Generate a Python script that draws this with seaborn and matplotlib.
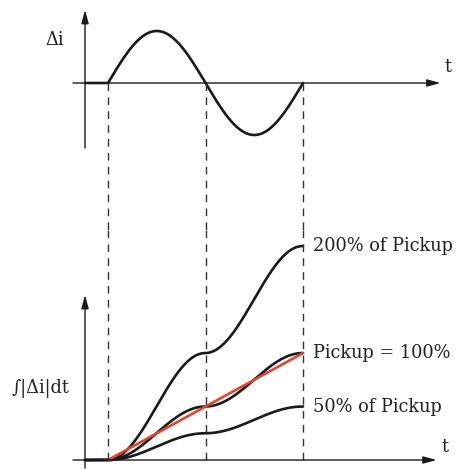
# Differential current and its integral, compared against the pickup level
import numpy as np
import pandas as pd
import matplotlib
matplotlib.use('Agg')
import matplotlib.pyplot as plt
import seaborn as sns

# Data
events = [1.0, 2.0, 3.0]            # fault start, zero crossing, end of the cycle (t in half-periods)
levels = [2.0, 1.0, 0.5]            # 200 %, 100 %, 50 % of pickup
labels = ['200% of Pickup', 'Pickup = 100%', '50% of Pickup']
pickup_line = [0.0, 1.0]            # straight pickup reference, from start to end
axis_t = 0.764                      # where the vertical axes stand

sns.set_style('white')
plt.rcParams['font.family'] = ['DejaVu Serif', 'DejaVu Sans']
plt.rcParams['font.size'] = 12.8

fig = plt.figure(figsize=(4.57, 4.69), dpi=100)
ax_top = fig.add_axes([0, 239 / 469, 1, 230 / 469])
ax_bot = fig.add_axes([0, 0, 1, 239 / 469])
for ax in (ax_top, ax_bot):
    ax.set_xlim(-0.108, 4.579)
    ax.axis('off')
ax_top.set_ylim(-2.827, 1.596)
ax_bot.set_ylim(-0.084, 2.150)

# Δi : one sine cycle from the fault start
t_pre = np.linspace(axis_t, events[0], 5)
t_wave = np.linspace(events[0], events[2], 300)
t_all = np.concatenate([t_pre, t_wave])
di = np.where(t_all < events[0], 0.0, np.sin(np.pi * (t_all - events[0])))
top_df = pd.DataFrame({'t': t_all, 'di': di})
sns.lineplot(data=top_df, x='t', y='di', ax=ax_top, color='#1a1a1a', lw=1.9, sort=False)

# integral of |Δi| normalised so that the 100 % curve reaches 1 at the end
step = np.diff(t_all, prepend=t_all[0])
integ = np.cumsum(np.abs(di) * step)
integ = integ / integ[-1]
for lev, lab in zip(levels, labels):
    d = pd.DataFrame({'t': t_all, 'y': integ * lev})
    sns.lineplot(data=d, x='t', y='y', ax=ax_bot, color='#1a1a1a', lw=1.9, sort=False)
    ax_bot.text(events[2] + 0.103, lev, lab, ha='left', va='center', color='#222222')

red_df = pd.DataFrame({'t': [events[0], events[2]], 'y': pickup_line})
sns.lineplot(data=red_df, x='t', y='y', ax=ax_bot, color='#e2452b', lw=1.9)

# dashed guides through both panels
dash = (0, (5.5, 4.5))
for t in events:
    ax_top.plot([t, t], [0, -2.827], color='#333333', lw=1.0, ls=dash, clip_on=False)
    ax_bot.plot([t, t], [2.150, 0], color='#333333', lw=1.0, ls=dash, clip_on=False)

# axes with arrows
arrow = dict(arrowstyle='-|>,head_length=0.8,head_width=0.22', color='#1a1a1a',
             lw=1.0, mutation_scale=10, shrinkA=0, shrinkB=0)
ax_top.annotate('', xy=(4.41, 0), xytext=(0.641, 0), arrowprops=arrow)
ax_top.annotate('', xy=(axis_t, 1.404), xytext=(axis_t, -1.25), arrowprops=arrow)
ax_bot.annotate('', xy=(4.37, 0), xytext=(0.641, 0), arrowprops=arrow)
ax_bot.annotate('', xy=(axis_t, 1.542), xytext=(axis_t, -0.075), arrowprops=arrow)

ax_top.text(0.456, 0.83, 'Δi', ha='center', va='center', color='#222222')
ax_top.text(4.49, 0.31, 't', ha='center', va='center', color='#222222')
ax_bot.text(4.46, 0.12, 't', ha='center', va='center', color='#222222')
ax_bot.text(0.303, 0.673, '∫|Δi|dt', ha='center', va='center', color='#222222')

fig.savefig('out.png', dpi=100)
